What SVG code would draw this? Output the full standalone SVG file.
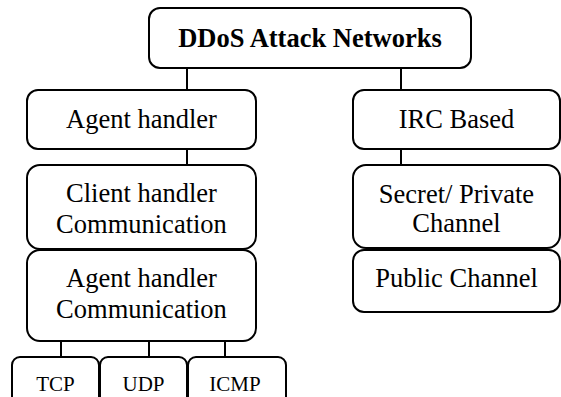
<svg xmlns="http://www.w3.org/2000/svg" width="561" height="397" viewBox="0 0 561 397">
  <style>
    .box { fill: #ffffff; stroke: #000000; stroke-width: 2; }
    .link { stroke: #000000; stroke-width: 2; fill: none; }
    .lbl { font-size: 26.5px; fill: #000000; text-anchor: middle; }
    .title { font-weight: bold; }
    .small { font-size: 21px; }
  </style>
  <rect width="561" height="397" fill="#ffffff"/>

  <!-- connectors -->
  <g id="connectors">
    <line class="link" x1="187" y1="68" x2="187" y2="90"/>
    <line class="link" x1="401" y1="68" x2="401" y2="90"/>
    <line class="link" x1="187" y1="149" x2="187" y2="165"/>
    <line class="link" x1="401" y1="149" x2="401" y2="165"/>
    <line class="link" x1="61" y1="341" x2="61" y2="357"/>
    <line class="link" x1="149" y1="341" x2="149" y2="357"/>
    <line class="link" x1="225" y1="341" x2="225" y2="357"/>
  </g>

  <g id="nodes" font-family="'Liberation Serif', 'DejaVu Serif', serif">
    <g id="root">
      <rect class="box" x="149" y="8" width="322" height="60" rx="11"/>
      <text class="lbl title" x="310" y="47">DDoS Attack Networks</text>
    </g>

    <g id="agent-handler">
      <rect class="box" x="27" y="90" width="229" height="59" rx="11"/>
      <text class="lbl" x="141.5" y="128">Agent handler</text>
    </g>

    <g id="client-handler-comm">
      <rect class="box" x="27" y="165" width="229" height="84" rx="13"/>
      <text class="lbl" x="141.5" y="202">Client handler</text>
      <text class="lbl" x="141.5" y="233">Communication</text>
    </g>

    <g id="agent-handler-comm">
      <rect class="box" x="27" y="250" width="229" height="91" rx="13"/>
      <text class="lbl" x="141.5" y="287">Agent handler</text>
      <text class="lbl" x="141.5" y="318">Communication</text>
    </g>

    <!-- bottom row runs past the lower edge of the canvas -->
    <g id="tcp">
      <rect class="box" x="12" y="357" width="87" height="60" rx="8"/>
      <text class="lbl small" x="55.5" y="391">TCP</text>
    </g>
    <g id="udp">
      <rect class="box" x="100" y="357" width="87" height="60" rx="8"/>
      <text class="lbl small" x="143.5" y="391">UDP</text>
    </g>
    <g id="icmp">
      <rect class="box" x="188" y="357" width="98" height="60" rx="8"/>
      <text class="lbl small" x="235" y="391">ICMP</text>
    </g>

    <g id="irc-based">
      <rect class="box" x="353" y="90" width="207" height="59" rx="11"/>
      <text class="lbl" x="456.5" y="128">IRC Based</text>
    </g>

    <g id="secret-private">
      <rect class="box" x="353" y="165" width="207" height="83" rx="13"/>
      <text class="lbl" x="456.5" y="203">Secret/ Private</text>
      <text class="lbl" x="456.5" y="232">Channel</text>
    </g>

    <g id="public-channel">
      <rect class="box" x="353" y="250" width="207" height="62" rx="11"/>
      <text class="lbl" x="456.5" y="287">Public Channel</text>
    </g>
  </g>
</svg>
